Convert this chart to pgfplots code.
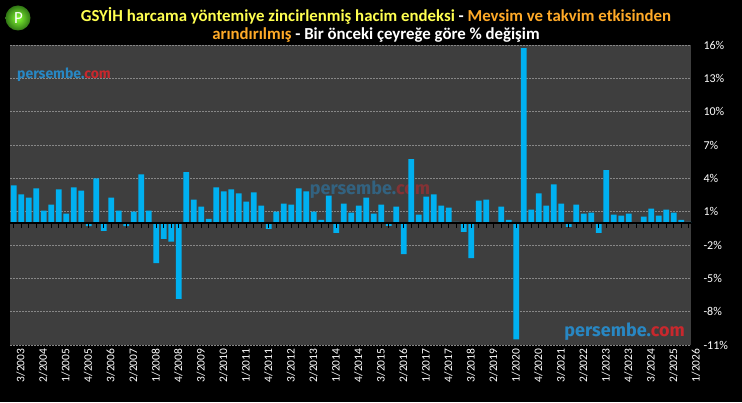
\documentclass[border=0pt]{standalone}
\usepackage{pgfplots}
\pgfplotsset{compat=1.18}
\usepackage{fontspec}
\setmainfont{Carlito}
\newfontfamily\wmfont{Fira Sans}
\definecolor{plotbg}{RGB}{62,62,62}
\definecolor{barblue}{RGB}{0,176,240}
\definecolor{titleyellow}{RGB}{255,255,80}
\definecolor{titleorange}{RGB}{255,170,40}
\definecolor{wmblue}{RGB}{40,135,195}
\definecolor{wmred}{RGB}{200,40,45}
\definecolor{gridgray}{RGB}{135,135,135}
\definecolor{logogreen}{RGB}{70,170,30}

\pgfplotstableread{
i v
0 3.36
1 2.55
2 2.27
3 3.09
4 1.09
5 1.64
6 3.00
7 0.82
8 3.18
9 2.90
10 -0.30
11 4.00
12 -0.73
13 2.27
14 1.09
15 -0.30
16 1.00
17 4.36
18 1.09
19 -3.64
20 -1.45
21 -1.70
22 -6.85
23 4.55
24 2.09
25 1.45
26 0.36
27 3.18
28 2.82
29 3.00
30 2.64
31 1.91
32 2.73
33 1.55
34 -0.55
35 1.00
36 1.73
37 1.64
38 3.09
39 2.82
40 1.00
41 0.27
42 2.45
43 -0.90
44 1.73
45 0.91
46 1.55
47 2.27
48 0.82
49 1.64
50 -0.27
51 1.45
52 -2.82
53 5.73
54 0.73
55 2.36
56 2.55
57 1.55
58 1.36
59 0.09
60 -0.82
61 -3.18
62 2.00
63 2.09
64 0.00
65 1.45
66 0.27
67 -10.50
68 15.73
69 1.18
70 2.64
71 1.55
72 3.45
73 1.73
74 -0.36
75 1.64
76 0.82
77 0.91
78 -0.91
79 4.73
80 0.73
81 0.64
82 0.82
83 -0.12
84 0.55
85 1.27
86 0.64
87 1.18
88 0.91
89 0.27
90 0.09
}\gdp

\begin{document}
\begin{tikzpicture}[x=1pt,y=1pt]
\fill[black] (0,0) rectangle (742,402);
\begin{axis}[at={(10pt,57pt)}, anchor=south west, scale only axis,
  width=681pt, height=300pt,
  xmin=-0.5, xmax=90.3, ymin=-11, ymax=16,
  axis background/.style={fill=plotbg},
  axis line style={draw=none},
  ytick={-11,-8,...,16},
  yticklabels={-11\%,-8\%,-5\%,-2\%,1\%,4\%,7\%,10\%,13\%,16\%},
  yticklabel pos=right,
  ymajorgrids,
  grid style={gridgray, line width=0.6pt, dash pattern=on 1.5pt off 1.5pt},
  major tick length=0pt,
  xtick={0,3,...,90},
  xticklabels={3/2003,2/2004,1/2005,4/2005,3/2006,2/2007,1/2008,4/2008,3/2009,2/2010,1/2011,4/2011,3/2012,2/2013,1/2014,4/2014,3/2015,2/2016,1/2017,4/2017,3/2018,2/2019,1/2020,4/2020,3/2021,2/2022,1/2023,4/2023,3/2024,2/2025,1/2026},
  xticklabel style={rotate=90, anchor=east, font=\fontsize{11.5}{13}\selectfont, text=white, yshift=-7pt},
  yticklabel style={font=\fontsize{12}{14}\selectfont, text=white, anchor=west, xshift=9pt},
]
\node[font=\wmfont\bfseries\fontsize{18}{20}\selectfont, opacity=0.5, inner sep=0] at (axis cs:47.5,3.0) {\textcolor{wmblue}{persembe.}\textcolor{wmred}{com}};
\addplot[ybar, bar width=0.76, fill=barblue, draw=none] table[x=i, y=v] {\gdp};
\end{axis}
\begin{axis}[at={(10pt,57pt)}, anchor=south west, scale only axis,
  width=681pt, height=300pt,
  xmin=-0.5, xmax=90.3, ymin=-11, ymax=16,
  axis x line*=middle, axis y line=none,
  xtick={0,1,...,90}, xticklabels={}, ytick=\empty,
  major tick length=5pt, tick align=outside,
  tick style={black, line width=0.8pt},
  axis line style={black, line width=1.6pt},
]
\addplot[draw=none] coordinates {(0,0)};
\end{axis}
% watermarks
\node[font=\wmfont\bfseries\fontsize{14}{16}\selectfont, anchor=west, inner sep=0] at (17,327) {\textcolor{wmblue}{persembe.}\textcolor{wmred}{com}};
\node[font=\wmfont\bfseries\fontsize{18}{20}\selectfont, anchor=east, inner sep=0] at (685,70) {\textcolor{wmblue}{persembe.}\textcolor{wmred}{com}};
% title
\node[font=\bfseries\fontsize{16.8}{18}\selectfont, anchor=base, inner sep=0] at (376,380) {\textcolor{titleyellow}{GSYİH harcama yöntemiye zincirlenmiş hacim endeksi} \textcolor{white}{-} \textcolor{titleorange}{Mevsim ve takvim etkisinden}};
\node[font=\bfseries\fontsize{16.8}{18}\selectfont, anchor=base, inner sep=0] at (376,362) {\textcolor{titleorange}{arındırılmış} \textcolor{white}{- Bir önceki çeyreğe göre \% değişim}};
% logo
\shade[inner color=green!60!yellow!80!white, outer color=logogreen!70!black] (18,384) circle (12.5);
\node[font=\fontsize{17}{18}\selectfont, text=white, inner sep=0] at (18.5,384) {P};
\end{tikzpicture}
\end{document}
